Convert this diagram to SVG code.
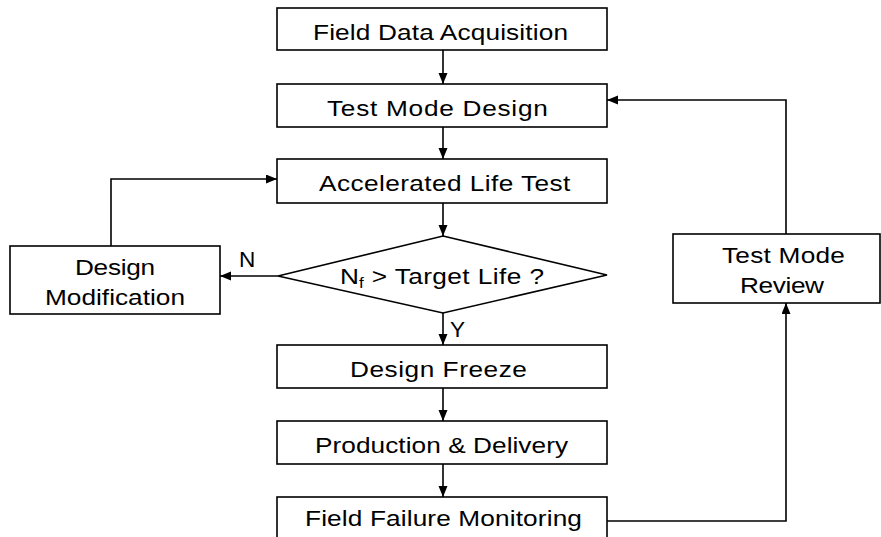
<svg xmlns="http://www.w3.org/2000/svg" width="881" height="537" viewBox="0 0 881 537">
<style>
rect.box{fill:#fff;stroke:#000;stroke-width:1.6}
polygon.dec{fill:#fff;stroke:#000;stroke-width:1.6}
text{font-family:"Liberation Sans",Arial,sans-serif;font-size:21.5px;fill:#000}
.conn path{fill:none;stroke:#000;stroke-width:1.6}
</style>
<defs>
<marker id="arr" markerUnits="userSpaceOnUse" markerWidth="12" markerHeight="10" refX="11" refY="4.5" orient="auto">
<path d="M0,0 L11,4.5 L0,9 z" fill="#000"/>
</marker>
</defs>
<rect width="881" height="537" fill="#fff"/>
<g class="conn">
<path d="M443,50 V84" marker-end="url(#arr)"/>
<path d="M443,127 V159" marker-end="url(#arr)"/>
<path d="M443,203 V236" marker-end="url(#arr)"/>
<path d="M278,276 H220" marker-end="url(#arr)"/>
<path d="M111,246 V179 H277" marker-end="url(#arr)"/>
<path d="M443,313 V345" marker-end="url(#arr)"/>
<path d="M443,388 V421" marker-end="url(#arr)"/>
<path d="M443,464 V497" marker-end="url(#arr)"/>
<path d="M607,521 H786 V303" marker-end="url(#arr)"/>
<path d="M786,234 V100 H607" marker-end="url(#arr)"/>
<text transform="translate(239,267) scale(1.05,1)">N</text>
<text transform="translate(450,337) scale(1.05,1)">Y</text>
</g>
<g id="field-data">
<rect class="box" x="277" y="8" width="330" height="42"/>
<text transform="translate(313,39.5) scale(1.22,1)" textLength="209" lengthAdjust="spacing">Field Data Acquisition</text>
</g>
<g id="test-mode-design">
<rect class="box" x="277" y="84" width="330" height="43"/>
<text transform="translate(327,116) scale(1.22,1)" textLength="181" lengthAdjust="spacing">Test Mode Design</text>
</g>
<g id="alt">
<rect class="box" x="277" y="159" width="330" height="44"/>
<text transform="translate(319,191) scale(1.22,1)" textLength="206" lengthAdjust="spacing">Accelerated Life Test</text>
</g>
<g id="decision">
<polygon class="dec" points="443,236 607,275 443,313 278,276"/>
<text transform="translate(340,284) scale(1.22,1)">N<tspan font-size="14" dy="4">f</tspan><tspan dy="-4" x="19.7" textLength="147.5" lengthAdjust="spacing"> &gt; Target Life ?</tspan></text>
</g>
<g id="design-mod">
<rect class="box" x="10" y="246" width="210" height="68"/>
<text transform="translate(75,275) scale(1.22,1)" textLength="65.6" lengthAdjust="spacing">Design</text>
<text transform="translate(45,305) scale(1.22,1)" textLength="114.8" lengthAdjust="spacing">Modification</text>
</g>
<g id="design-freeze">
<rect class="box" x="277" y="345" width="330" height="43"/>
<text transform="translate(350,377) scale(1.22,1)" textLength="145" lengthAdjust="spacing">Design Freeze</text>
</g>
<g id="production">
<rect class="box" x="277" y="421" width="330" height="43"/>
<text transform="translate(315,453) scale(1.22,1)" textLength="207.4" lengthAdjust="spacing">Production &amp; Delivery</text>
</g>
<g id="field-failure">
<rect class="box" x="277" y="497" width="330" height="44"/>
<text transform="translate(305,526) scale(1.22,1)" textLength="227" lengthAdjust="spacing">Field Failure Monitoring</text>
</g>
<g id="test-mode-review">
<rect class="box" x="673" y="234" width="207" height="69"/>
<text transform="translate(722,263) scale(1.22,1)" textLength="100.8" lengthAdjust="spacing">Test Mode</text>
<text transform="translate(740,293) scale(1.22,1)" textLength="68.9" lengthAdjust="spacing">Review</text>
</g>
</svg>
